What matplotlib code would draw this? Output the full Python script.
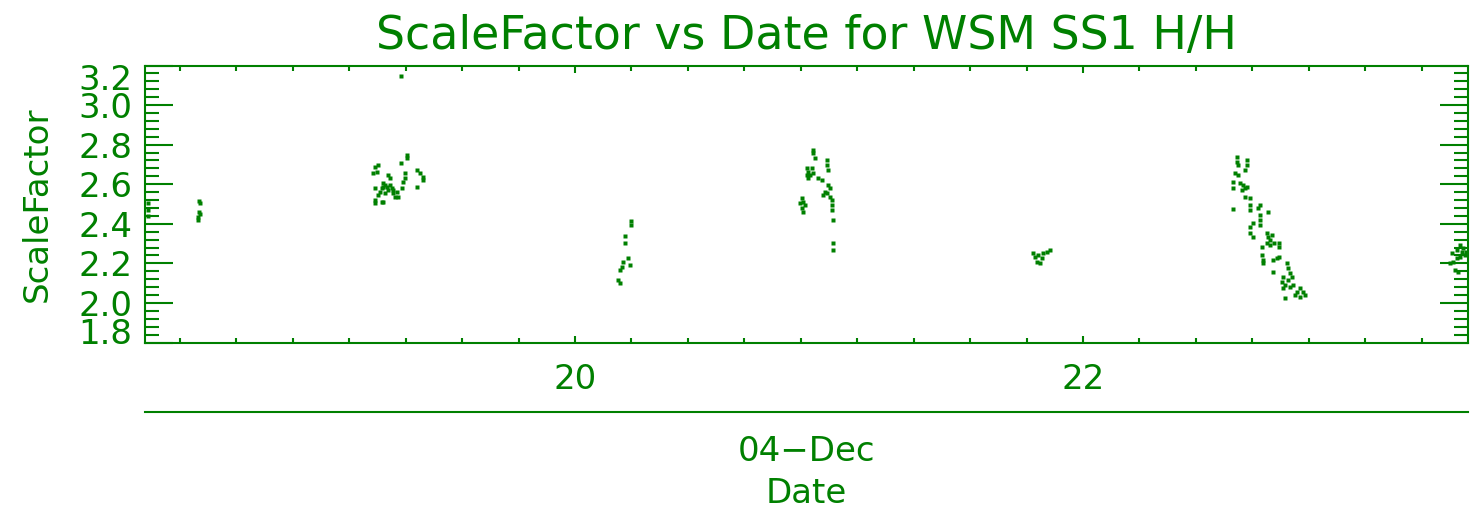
import matplotlib
matplotlib.use("Agg")
import matplotlib.pyplot as plt
from matplotlib.ticker import FixedLocator, MultipleLocator, FormatStrFormatter
from matplotlib.transforms import ScaledTranslation
import numpy as np

GREEN = '#008000'

# ScaleFactor samples, day of month (fractional) and value, one pair per pass
pass1_day = [18.319, 18.319, 18.319, 18.520, 18.524, 18.520, 18.524, 18.516, 18.516]
pass1_sf = [2.505, 2.470, 2.440, 2.515, 2.505, 2.460, 2.450, 2.434, 2.419]

pass2_day = [19.337, 19.337, 19.315, 19.226, 19.213, 19.219, 19.206, 19.265, 19.272,
             19.331, 19.331, 19.324, 19.377, 19.390, 19.403, 19.403, 19.377, 19.213,
             19.245, 19.239, 19.259, 19.265, 19.278, 19.285, 19.298, 19.304, 19.291,
             19.252, 19.232, 19.213, 19.213, 19.239, 19.318, 19.252, 19.245, 19.272,
             19.285, 19.226, 19.244, 19.315]
pass2_sf = [2.748, 2.731, 2.709, 2.697, 2.689, 2.663, 2.655, 2.647, 2.630,
            2.655, 2.630, 2.613, 2.672, 2.655, 2.638, 2.621, 2.588, 2.579,
            2.605, 2.579, 2.588, 2.571, 2.579, 2.554, 2.562, 2.537, 2.537,
            2.554, 2.562, 2.520, 2.504, 2.512, 2.579, 2.597, 2.588, 2.597,
            2.570, 2.547, 2.508, 3.147]

pass3_day = [20.219, 20.219, 20.197, 20.197, 20.210, 20.217, 20.188, 20.184, 20.177,
             20.170, 20.177]
pass3_sf = [2.416, 2.394, 2.338, 2.302, 2.226, 2.192, 2.209, 2.183, 2.167,
            2.116, 2.099]

pass4_day = [20.936, 20.938, 20.945, 20.991, 20.993, 20.997, 20.912, 20.919, 20.925,
             20.912, 20.932, 20.938, 20.919, 20.958, 20.971, 20.997, 21.004, 20.984,
             20.978, 20.991, 21.004, 21.011, 21.011, 21.011, 20.893, 20.899, 20.886,
             20.906, 20.893, 20.899, 21.017, 21.017, 21.017]
pass4_sf = [2.773, 2.756, 2.731, 2.722, 2.697, 2.672, 2.681, 2.663, 2.647,
            2.647, 2.681, 2.655, 2.630, 2.630, 2.621, 2.596, 2.579, 2.562,
            2.546, 2.554, 2.537, 2.520, 2.495, 2.470, 2.529, 2.512, 2.504,
            2.495, 2.478, 2.461, 2.419, 2.302, 2.268]

pass5_day = [21.804, 21.811, 21.818, 21.831, 21.837, 21.844, 21.857, 21.870, 21.824]
pass5_sf = [2.251, 2.234, 2.209, 2.200, 2.226, 2.251, 2.259, 2.268, 2.242]

pass6_day = [22.605, 22.605, 22.611, 22.644, 22.644, 22.638, 22.598, 22.611, 22.592,
             22.618, 22.631, 22.638, 22.644, 22.625, 22.592, 22.638, 22.657, 22.657,
             22.657, 22.592, 22.697, 22.690, 22.730, 22.697, 22.697, 22.697, 22.670,
             22.657, 22.657, 22.670, 22.723, 22.730, 22.736, 22.723, 22.736, 22.743,
             22.703, 22.772, 22.772, 22.752, 22.703, 22.710, 22.710, 22.749, 22.763,
             22.772, 22.749, 22.802, 22.808, 22.815, 22.822, 22.808, 22.789, 22.782,
             22.795, 22.789, 22.828, 22.841, 22.854, 22.867, 22.874, 22.854, 22.835,
             22.795, 22.815]
pass6_sf = [2.739, 2.714, 2.697, 2.722, 2.697, 2.672, 2.655, 2.647, 2.613,
            2.605, 2.596, 2.579, 2.588, 2.571, 2.579, 2.537, 2.529, 2.495,
            2.470, 2.475, 2.495, 2.478, 2.461, 2.445, 2.419, 2.394, 2.403,
            2.385, 2.352, 2.335, 2.352, 2.335, 2.318, 2.302, 2.293, 2.344,
            2.284, 2.302, 2.284, 2.302, 2.242, 2.217, 2.200, 2.217, 2.226,
            2.234, 2.158, 2.200, 2.175, 2.150, 2.133, 2.116, 2.133, 2.108,
            2.091, 2.074, 2.091, 2.057, 2.074, 2.057, 2.040, 2.032, 2.040,
            2.024, 2.082]

pass7_day = [23.452, 23.458, 23.465, 23.478, 23.471, 23.484, 23.497, 23.504, 23.484,
             23.471, 23.445, 23.491, 23.510]
pass7_sf = [2.251, 2.209, 2.167, 2.158, 2.268, 2.293, 2.276, 2.242, 2.234,
            2.226, 2.200, 2.259, 2.259]

day_ticks = [20, 22]
sf_ticks = [1.8, 2.0, 2.2, 2.4, 2.6, 2.8, 3.0, 3.2]
x_range = (18.307, 23.516)
y_range = (1.8, 3.2)

plt.rcParams['font.family'] = ['DejaVu Sans']
fig = plt.figure(figsize=(14.77, 5.18), dpi=100)
ax = fig.add_axes([145 / 1477, 1 - 342.5 / 518, 1323 / 1477, 277 / 518])

for d, s in [(pass1_day, pass1_sf), (pass2_day, pass2_sf), (pass3_day, pass3_sf),
             (pass4_day, pass4_sf), (pass5_day, pass5_sf), (pass6_day, pass6_sf),
             (pass7_day, pass7_sf)]:
    ax.plot(d, s, 's', ms=2.3, color=GREEN, mec='none')

ax.set_xlim(*x_range)
ax.set_ylim(*y_range)

for sp in ax.spines.values():
    sp.set_color(GREEN)
    sp.set_linewidth(1.5)

# x axis: day labels, nine minor intervals between labelled days
ax.xaxis.set_major_locator(FixedLocator(day_ticks))
ax.xaxis.set_minor_locator(MultipleLocator(2 / 9))
ax.set_xticklabels([str(d) for d in day_ticks])
ax.tick_params(axis='x', which='major', direction='in', length=5, width=1.5,
               top=True, bottom=True, color=GREEN, labelcolor=GREEN,
               labelsize=24.5, pad=15)
ax.tick_params(axis='x', which='minor', direction='in', length=3.5, width=1.5,
               top=True, bottom=True, color=GREEN)

# y axis: long inward ticks on both sides
ax.yaxis.set_major_locator(FixedLocator(sf_ticks))
ax.yaxis.set_minor_locator(MultipleLocator(0.04))
ax.yaxis.set_major_formatter(FormatStrFormatter('%.1f'))
ax.tick_params(axis='y', which='major', direction='in', length=20, width=1.5,
               left=True, right=True, color=GREEN, labelcolor=GREEN,
               labelsize=24.5, pad=9)
ax.tick_params(axis='y', which='minor', direction='in', length=10, width=1.5,
               left=True, right=True, color=GREEN)

# end labels sit inside the axis range
labels = ax.get_yticklabels()
labels[0].set_transform(labels[0].get_transform() + ScaledTranslation(0, 12 / 100, fig.dpi_scale_trans))
labels[-1].set_transform(labels[-1].get_transform() + ScaledTranslation(0, -12 / 100, fig.dpi_scale_trans))

ax.set_ylabel('ScaleFactor', color=GREEN, fontsize=24.5, labelpad=18)

# second level of the date axis: month label and axis title
sec = ax.secondary_xaxis(-0.25)
sec.spines['bottom'].set_color(GREEN)
sec.spines['bottom'].set_linewidth(1.5)
sec.set_xticks([np.mean(x_range)])
sec.set_xticklabels(['04\u2212Dec'])
sec.tick_params(axis='x', length=0, pad=17, labelcolor=GREEN, labelsize=24.5)
sec.xaxis.set_minor_locator(FixedLocator([]))
sec.set_xlabel('Date', color=GREEN, fontsize=24.5, labelpad=6)

fig.suptitle('ScaleFactor vs Date for WSM SS1 H/H', color=GREEN, fontsize=33,
             x=(145 + 1468) / 2 / 1477, y=1 - 14 / 518, va='top')

fig.savefig('out.png', dpi=100, facecolor='white')
